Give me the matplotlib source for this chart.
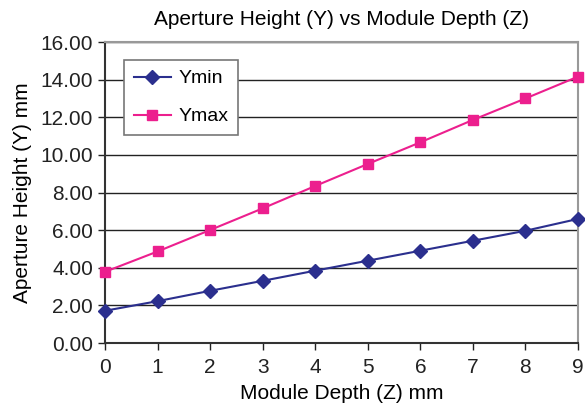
import matplotlib.pyplot as plt

plt.rcParams['font.family'] = ['Liberation Sans', 'DejaVu Sans']

# datos
depth_z = [0, 1, 2, 3, 4, 5, 6, 7, 8, 9]
y_min = [1.72, 2.23, 2.78, 3.31, 3.85, 4.38, 4.91, 5.44, 5.97, 6.60]
y_max = [3.79, 4.87, 6.01, 7.16, 8.35, 9.52, 10.67, 11.86, 13.00, 14.16]
y_ticks = [0, 2, 4, 6, 8, 10, 12, 14, 16]

fig = plt.figure(figsize=(5.85, 4.08), dpi=100)
ax = fig.add_axes([0.1795, 0.159, 0.8085, 0.738])

ax.plot(depth_z, y_min, color='#2b2f8e', marker='D', markersize=7.5, lw=1.5,
        label='Ymin', clip_on=False, zorder=3)
ax.plot(depth_z, y_max, color='#ec1f8e', marker='s', markersize=7.5, lw=1.5,
        label='Ymax', clip_on=False, zorder=3)

ax.set_xlim(0, 9)
ax.set_ylim(0, 16)
ax.set_xticks(depth_z)
ax.set_yticks(y_ticks)
ax.set_yticklabels([f'{v:.2f}' for v in y_ticks])
ax.yaxis.grid(True, color='#222222', lw=1)
ax.set_axisbelow(True)

for s in ['top', 'right']:
    ax.spines[s].set_color('#999999')
    ax.spines[s].set_linewidth(1.5)
for s in ['left', 'bottom']:
    ax.spines[s].set_color('#333333')
    ax.spines[s].set_linewidth(1.5)
ax.tick_params(direction='out', length=5, width=1, labelsize=15, colors='#222222')
ax.tick_params(axis='x', pad=6)

ax.set_title('Aperture Height (Y) vs Module Depth (Z)', fontsize=15, pad=12)
ax.set_xlabel('Module Depth (Z) mm', fontsize=15, labelpad=5)
ax.set_ylabel('Aperture Height (Y) mm', fontsize=15, labelpad=6)

leg = ax.legend(loc='upper left', bbox_to_anchor=(0.04, 0.94), borderaxespad=0,
                fontsize=14, fancybox=False, framealpha=1, edgecolor='#777777',
                handlelength=1.9, handletextpad=0.4, labelspacing=1.05,
                borderpad=0.5)
leg.get_frame().set_linewidth(1.2)

plt.savefig('out.png', dpi=100)
plt.close()
